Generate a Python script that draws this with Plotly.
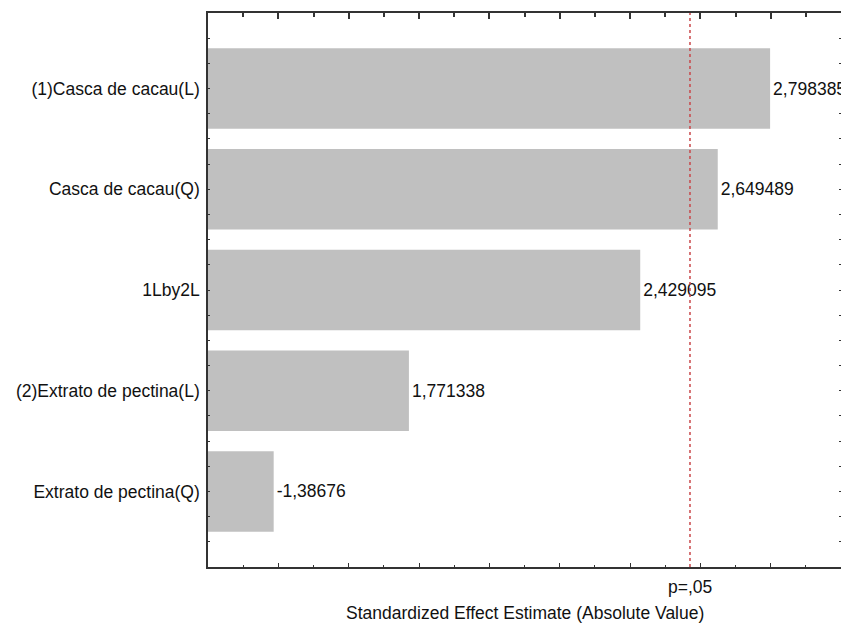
import plotly.graph_objects as go

# Pareto chart of standardized effects
factors = [
    "(1)Casca de cacau(L)",
    "Casca de cacau(Q)",
    "1Lby2L",
    "(2)Extrato de pectina(L)",
    "Extrato de pectina(Q)",
]
effects = [2.798385, 2.649489, 2.429095, 1.771338, -1.38676]
p_critical = 2.570582  # t critical value at p = .05

positions = list(range(len(factors)))
abs_effects = [abs(v) for v in effects]
labels = [repr(v).replace(".", ",") for v in effects]

FONT = "Liberation Sans, Arial, sans-serif"
AXIS_COLOR = "#333333"
TEXT_COLOR = "#111111"
y_range = [len(factors) - 0.25, -0.75]
x_range = [1.2, 3.0]
x_major, x_minor = 0.2, 0.1
y_minor = 0.25

y_ticks = dict(
    ticks="inside", ticklen=2.5, tickwidth=1.2, tickcolor=AXIS_COLOR,
    tickmode="array", tickvals=positions, showgrid=False, zeroline=False,
    minor=dict(ticks="inside", ticklen=2.5, tickwidth=1.2,
               tickcolor=AXIS_COLOR, tick0=0, dtick=y_minor, showgrid=False),
)

fig = go.Figure()
fig.add_trace(go.Bar(
    x=abs_effects,
    y=positions,
    orientation="h",
    width=0.8,
    marker=dict(color="#c0c0c0", line=dict(width=0)),
    text=labels,
    textposition="outside",
    textfont=dict(family=FONT, size=17.5, color=TEXT_COLOR),
    constraintext="none",
    cliponaxis=False,
    hoverinfo="skip",
    showlegend=False,
))
# helper traces so the top and right tick axes are rendered
for xa in ("x2", "x3"):
    fig.add_trace(go.Scatter(
        x=[x_range[0]], y=[0], xaxis=xa, yaxis="y2", mode="markers",
        marker=dict(opacity=0), hoverinfo="skip", showlegend=False,
    ))

fig.add_shape(
    type="line", xref="x", yref="paper",
    x0=p_critical, x1=p_critical, y0=0, y1=1,
    line=dict(color="#c9474a", width=1.5, dash="dot"),
    layer="above",
)
fig.add_annotation(
    x=p_critical, xref="x", y=-0.036, yref="paper",
    text="p=,05", showarrow=False, yanchor="middle", xanchor="center",
    font=dict(family=FONT, size=17.5, color=TEXT_COLOR),
)
fig.add_annotation(
    x=0.5, xref="paper", y=-0.083, yref="paper",
    text="Standardized Effect Estimate (Absolute Value)",
    showarrow=False, yanchor="middle", xanchor="center",
    font=dict(family=FONT, size=17.5, color=TEXT_COLOR),
)


def top_axis(step, length):
    return dict(
        overlaying="x", side="top", anchor="y2", range=x_range,
        showline=False, showgrid=False, zeroline=False, showticklabels=False,
        ticks="inside", ticklen=length, tickwidth=1.5, tickcolor=AXIS_COLOR,
        tick0=x_range[0], dtick=step,
    )


fig.update_layout(
    width=841,
    height=623,
    margin=dict(l=208, r=0, t=13, b=56),
    paper_bgcolor="white",
    plot_bgcolor="white",
    xaxis=dict(
        range=x_range,
        showline=True,
        linecolor=AXIS_COLOR,
        linewidth=1.5,
        mirror=True,
        ticks="inside", ticklen=4, tickwidth=1.2, tickcolor=AXIS_COLOR,
        tick0=x_range[0], dtick=x_major, showticklabels=False,
        showgrid=False, zeroline=False,
        minor=dict(ticks="inside", ticklen=2.5, tickwidth=1.2,
                   tickcolor=AXIS_COLOR, tick0=x_range[0], dtick=x_minor,
                   showgrid=False),
    ),
    xaxis2=top_axis(x_minor, 4),
    xaxis3=top_axis(x_major, 6),
    yaxis=dict(
        range=y_range,
        showline=True,
        linecolor=AXIS_COLOR,
        linewidth=1.5,
        ticktext=factors,
        tickfont=dict(family=FONT, size=17.5, color=TEXT_COLOR),
        ticklabelstandoff=3,
        **y_ticks,
    ),
    yaxis2=dict(
        overlaying="y",
        side="right",
        range=y_range,
        showline=False,
        showticklabels=False,
        **y_ticks,
    ),
)

fig.write_html("out.html")
